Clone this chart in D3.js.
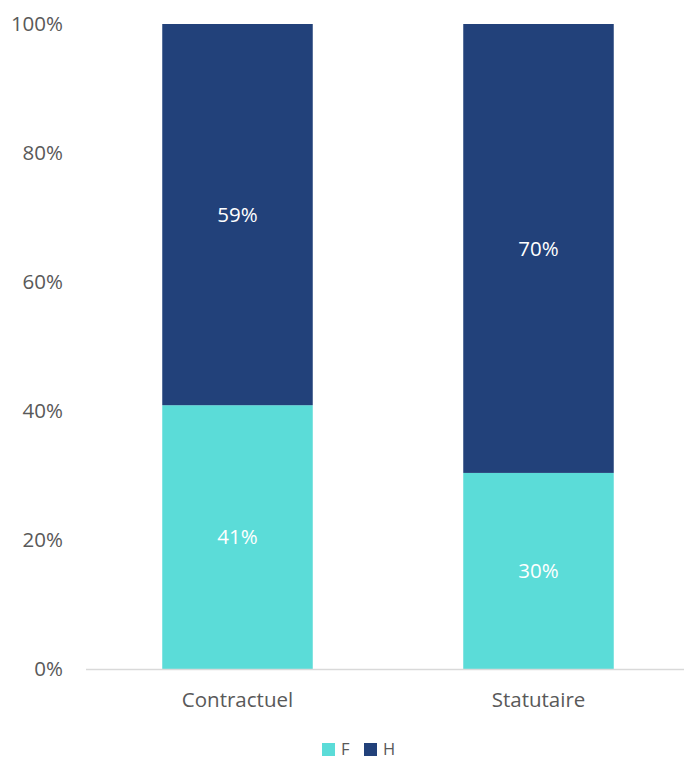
<!DOCTYPE html>
<html><head><meta charset="utf-8">
<script src="https://cdn.jsdelivr.net/npm/d3@7"></script>
<style>body{margin:0;background:#fff}svg{display:block;font-family:"Open Sans","Noto Sans",sans-serif}</style>
</head><body><svg id="c" width="684" height="760"></svg>
<script>
const categories = ["Contractuel", "Statutaire"];
const seriesNames = ["F", "H"];
const valuesF = [0.409, 0.304];
const valuesH = [0.591, 0.696];
const yTicks = [0, 0.2, 0.4, 0.6, 0.8, 1.0];
const colors = ["#5BDCD8", "#22417A"];

const svg = d3.select("#c");
const x = d3.scaleBand().domain(categories).range([87, 689]).paddingInner(0.5).paddingOuter(0.25);
const y = d3.scaleLinear().domain([0, 1]).range([669, 24]);

const rows = categories.map((c, i) => ({cat: c, F: valuesF[i], H: valuesH[i]}));
const stack = d3.stack().keys(seriesNames)(rows);
const color = d3.scaleOrdinal().domain(seriesNames).range(colors);
const FS = 20.5;

// y axis labels
const yAxis = d3.axisLeft(y).tickValues(yTicks).tickFormat(d3.format(".0%")).tickSize(0).tickPadding(0);
const ga = svg.append("g").attr("transform", "translate(63,0)").call(yAxis);
ga.select(".domain").remove();
ga.selectAll("text").attr("fill", "#595959").attr("font-size", FS).attr("font-family", "'Open Sans', sans-serif");

// bars
stack.forEach(s => {
  svg.append("g").selectAll("rect").data(s).join("rect")
    .attr("x", d => x(d.data.cat))
    .attr("width", x.bandwidth())
    .attr("y", d => y(d[1]))
    .attr("height", d => y(d[0]) - y(d[1]))
    .attr("fill", color(s.key));
  svg.append("g").selectAll("text").data(s).join("text")
    .attr("x", d => x(d.data.cat) + x.bandwidth() / 2)
    .attr("y", d => (y(d[0]) + y(d[1])) / 2)
    .attr("dy", "0.35em")
    .attr("text-anchor", "middle")
    .attr("fill", "#fff")
    .attr("font-size", FS)
    .text(d => d3.format(".0%")(d[1] - d[0]));
});

// x axis
const xAxis = d3.axisBottom(x).tickSize(0).tickPadding(0);
const gx = svg.append("g").attr("transform", "translate(0,669)").call(xAxis);
gx.select(".domain").remove();
gx.selectAll("text").attr("fill", "#595959").attr("font-size", FS).attr("font-family", "'Open Sans', sans-serif").attr("dy", null).attr("y", 38);
svg.append("line").attr("x1", 86).attr("x2", 684).attr("y1", 669.5).attr("y2", 669.5).attr("stroke", "#D9D9D9").attr("stroke-width", 1.5);

// legend
const legX = [322, 364];
const lg = svg.append("g").selectAll("g").data(seriesNames).join("g")
  .attr("transform", (d, i) => `translate(${legX[i]},743)`);
lg.append("rect").attr("width", 13).attr("height", 13).attr("fill", d => color(d));
lg.append("text").attr("x", 19).attr("y", 12).attr("fill", "#595959").attr("font-size", 16.5).text(d => d);
</script></body></html>
